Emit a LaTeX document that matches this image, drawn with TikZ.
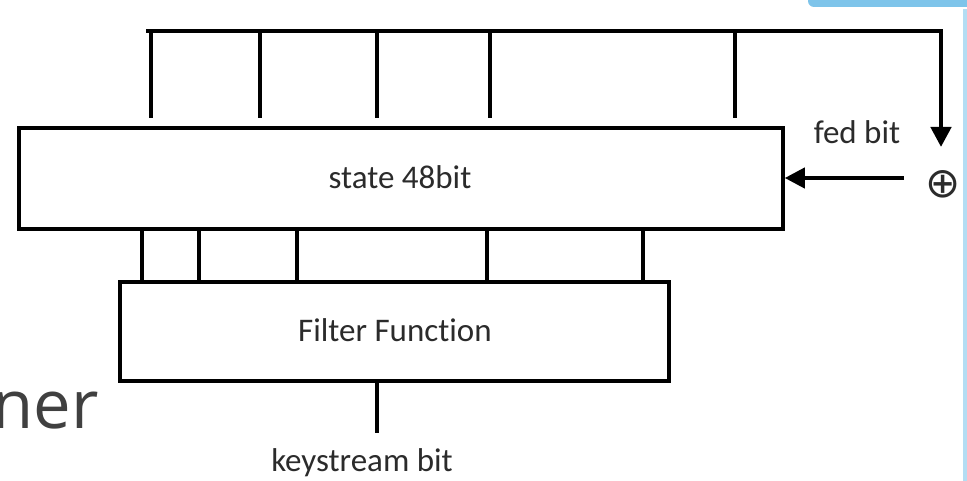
\documentclass[tikz,border=0pt]{standalone}
\usepackage{fontspec}
\setmainfont{Carlito}[Ligatures=NoCommon]
\newfontfamily\slidefont{Open Sans}
\newfontfamily\symfont{DejaVu Sans}
\usetikzlibrary{arrows.meta}
\definecolor{labelgray}{HTML}{2B2B2B}
\definecolor{slideblue}{HTML}{7EC4EA}
\definecolor{edgeblue}{HTML}{B4DDF3}
\tikzset{
  block/.style={draw=black, line width=3.5pt, fill=white, rectangle, inner sep=0pt},
  wire/.style={draw=black, line width=4.5pt},
  lbl/.style={text=labelgray, font=\fontsize{33}{33}\selectfont, inner sep=0pt},
  tip/.style={-{Triangle[length=20pt,width=20pt]}}
}
\begin{document}
\begin{tikzpicture}[x=1pt,y=-1pt]
  \useasboundingbox (0,0) rectangle (967,481);
  \fill[white] (0,0) rectangle (967,481);

  % slide decorations at the right edge
  \fill[slideblue, rounded corners=6pt] (808,-10) rectangle (980,7);
  \fill[edgeblue] (963,9) rectangle (967,481);

  % fragment of the slide title
  \node[anchor=base east, text=black!75, inner sep=0pt,
        font=\slidefont\fontsize{67}{67}\selectfont] (title) at (99,428) {ner};

  % register and filter
  \node[block, minimum width=764pt, minimum height=101pt] (state) at (401,178.5) {};
  \node[lbl] (statelbl) at (400,177) {state 48bit};
  \node[block, minimum width=549pt, minimum height=99pt] (filter) at (394.5,331.5) {};
  \node[lbl] (filterlbl) at (395,330) {Filter Function};

  % feedback taps
  \coordinate (fbL) at (148,31);
  \coordinate (fbR) at (941,31);
  \foreach \x [count=\i] in {151,260,377,490,735} {
    \coordinate (tap\i) at (\x,118);
    \draw[wire] (\x,31) -- (tap\i);
  }
  \draw[wire, line cap=rect] (fbL) -- (fbR);

  % XOR and fed bit
  \node[inner sep=0pt, text=labelgray, font=\symfont\fontsize{42}{42}\selectfont] (xor) at (943,184) {⊕};
  \coordinate (fbTip) at (941,147);
  \draw[wire, tip] (fbR) -- (fbTip);
  \node[lbl] (fedlbl) at (857,132) {fed bit};
  \coordinate (fedstart) at (904,178);
  \draw[wire, line width=4pt, tip] (fedstart) -- (fedstart -| state.east);

  % filter taps
  \foreach \x [count=\i] in {142,199,297,487,643} {
    \coordinate (ftap\i) at (\x,250);
    \draw[wire, line width=4pt] (state.south -| ftap\i) -- (filter.north -| ftap\i);
  }

  % output
  \coordinate (ksend) at (377,433);
  \draw[wire, line width=4pt] (filter.south -| ksend) -- (ksend);
  \node[lbl] (kslbl) at (362,463) {keystream bit};
\end{tikzpicture}
\end{document}
